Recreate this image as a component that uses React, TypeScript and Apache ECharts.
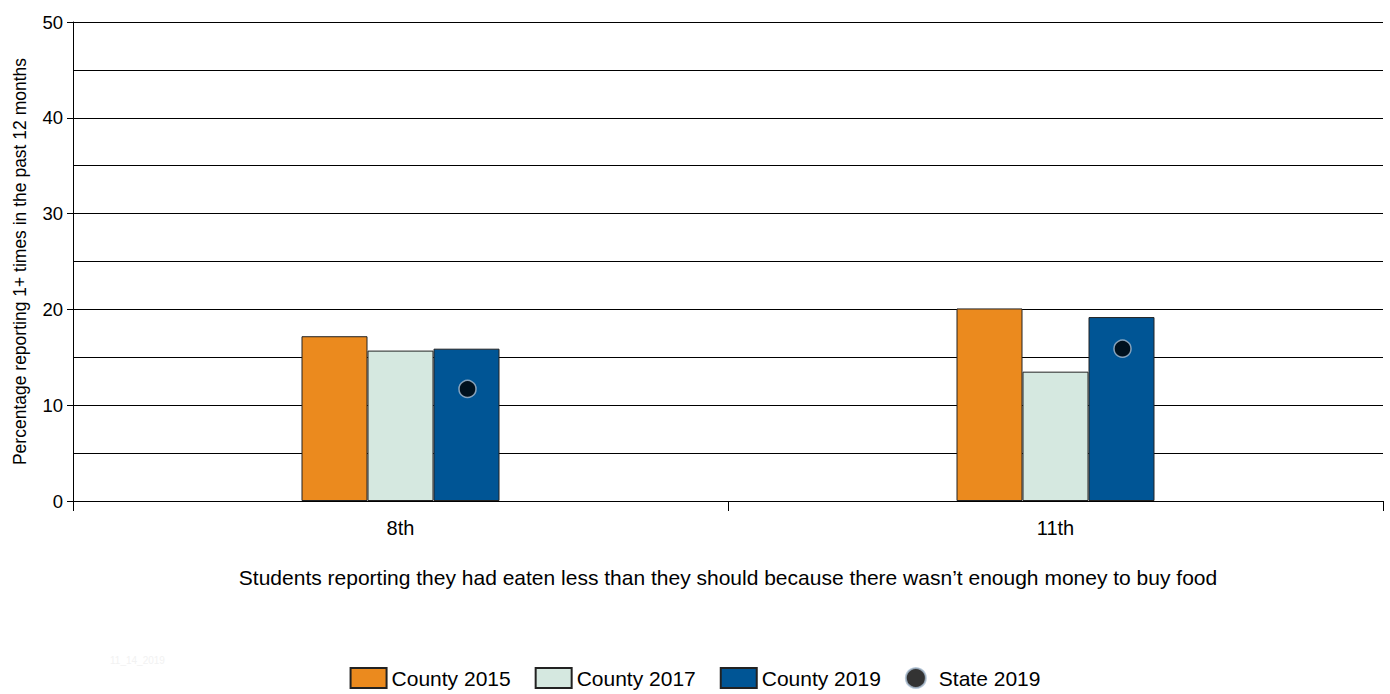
import React, { useEffect, useRef } from "react";
import * as echarts from "echarts";

const categories = ["8th", "11th"];
const county2015 = [17.2, 20.1];
const county2017 = [15.7, 13.5];
const county2019 = [15.9, 19.2];
const state2019 = [11.7, 15.9];
const yTicks = [0, 10, 20, 30, 40, 50];

const FONT = "'Liberation Sans', Arial, sans-serif";

export default function App() {
  const ref = useRef<HTMLDivElement>(null);
  useEffect(() => {
    if (!ref.current) return;
    const chart = echarts.init(ref.current, undefined, { renderer: "svg" });
    const barBorder = { borderColor: "#222", borderWidth: 1 };
    chart.setOption({
      animation: false,
      textStyle: { fontFamily: FONT },
      grid: { left: 73, right: 7, top: 22, bottom: 193, containLabel: false },
      xAxis: [
        {
          type: "category",
          data: categories,
          axisLine: { show: true, lineStyle: { color: "#000", width: 1 } },
          axisTick: { show: true, length: 10, lineStyle: { color: "#000" } },
          axisLabel: { color: "#000", fontSize: 20, margin: 17, fontFamily: FONT },
          name: "Students reporting they had eaten less than they should because there wasn\u2019t enough money to buy food",
          nameLocation: "middle",
          nameGap: 66,
          nameTextStyle: { color: "#000", fontSize: 21, fontFamily: FONT },
        },
        {
          type: "category",
          data: categories,
          show: false,
          position: "bottom",
        },
      ],
      yAxis: {
        type: "value",
        min: 0,
        max: 50,
        interval: 10,
        axisLine: { show: true, lineStyle: { color: "#000", width: 1 } },
        axisTick: { show: true, length: 6, lineStyle: { color: "#000" } },
        axisLabel: {
          color: "#000",
          fontSize: 18.5,
          margin: 10,
          fontFamily: FONT,
          formatter: (v: number) => (yTicks.includes(v) ? String(v) : ""),
        },
        splitLine: { show: true, lineStyle: { color: "#000", width: 1 } },
        minorTick: { show: false, splitNumber: 2 },
        minorSplitLine: { show: true, lineStyle: { color: "#000", width: 1 } },
        name: "Percentage reporting 1+ times in the past 12 months",
        nameLocation: "middle",
        nameRotate: 90,
        nameGap: 44,
        nameTextStyle: { color: "#000", fontSize: 17.5, fontFamily: FONT },
      },
      legend: {
        bottom: 0,
        left: "center",
        itemWidth: 36,
        itemHeight: 20,
        itemGap: 24,
        textStyle: { color: "#000", fontSize: 21, fontFamily: FONT },
        data: [
          { name: "County 2015", icon: "rect" },
          { name: "County 2017", icon: "rect" },
          { name: "County 2019", icon: "rect" },
          { name: "State 2019", icon: "circle" },
        ],
      },
      series: [
        {
          name: "County 2015",
          type: "bar",
          data: county2015,
          barWidth: 66,
          barGap: "0%",
          itemStyle: { color: "#EB8A1E", ...barBorder },
        },
        {
          name: "County 2017",
          type: "bar",
          data: county2017,
          barWidth: 66,
          barGap: "0%",
          itemStyle: { color: "#D5E8E0", ...barBorder },
        },
        {
          name: "County 2019",
          type: "bar",
          data: county2019,
          barWidth: 66,
          barGap: "0%",
          itemStyle: { color: "#005595", ...barBorder },
        },
        {
          name: "State 2019",
          type: "scatter",
          xAxisIndex: 1,
          data: state2019,
          symbol: "circle",
          symbolSize: 17,
          symbolOffset: [67, 0],
          itemStyle: { color: "#000", borderColor: "#a8bcd0", borderWidth: 1.5 },
          z: 5,
        },
      ],
      graphic: [
        {
          type: "text",
          left: 110,
          top: 655,
          style: { text: "11_14_2019", fill: "#f2f2f2", fontSize: 10, fontFamily: FONT },
        },
      ],
    });
    return () => chart.dispose();
  }, []);
  return (
    <div
      ref={ref}
      style={{ position: "absolute", left: 0, top: 0, width: 1390, height: 694, background: "#fff" }}
    />
  );
}
